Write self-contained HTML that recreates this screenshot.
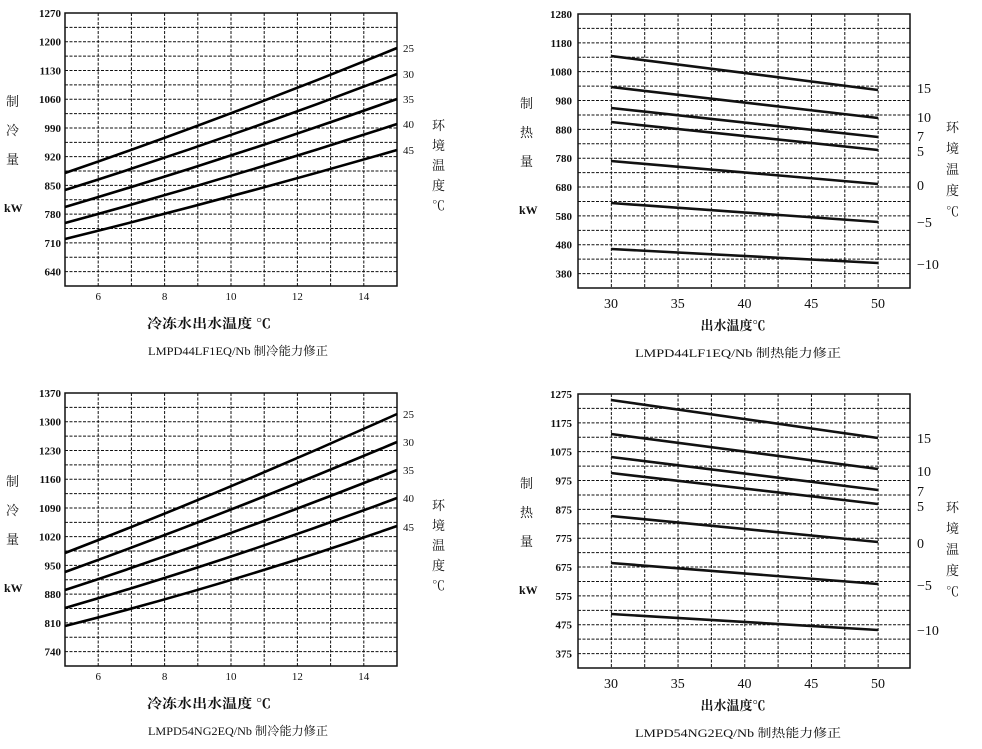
<!DOCTYPE html>
<html><head><meta charset="utf-8"><style>
body{margin:0;background:#fff;width:982px;height:749px;overflow:hidden}
svg{display:block}
text{font-family:"Liberation Serif","Noto Serif CJK SC",serif;fill:#111}
</style></head><body>
<svg id="s" width="982" height="749" viewBox="0 0 982 749" xmlns="http://www.w3.org/2000/svg"></svg>
<script>
var s=document.getElementById('s'),h='';
function L(x1,y1,x2,y2,w,d){h+='<line x1="'+x1+'" y1="'+y1+'" x2="'+x2+'" y2="'+y2+'" stroke="#111" stroke-width="'+w+'"'+(d?' stroke-dasharray="3,1.5"':'')+'/>';}
function T(x,y,t,sz,a,b,tl){h+='<text x="'+x+'" y="'+y+'" font-size="'+sz+'" text-anchor="'+(a||'start')+'"'+(b?' font-weight="bold"':'')+(tl?' textLength="'+tl+'" lengthAdjust="spacingAndGlyphs"':'')+'>'+t+'</text>';}
function cool(oy,top,lines,rl,title){
 var x0=65,x1=397,y0=oy+13,y1=oy+286,step=(y1-y0)/19;
 for(var i=1;i<19;i++)L(x0,y0+i*step,x1,y0+i*step,1,1);
 for(var k=6;k<=14;k++){var x=x0+(k-5)*33.2;L(x,y0,x,y1,1,1);}
 h+='<rect x="'+x0+'" y="'+y0+'" width="'+(x1-x0)+'" height="'+(y1-y0)+'" fill="none" stroke="#111" stroke-width="1.5"/>';
 for(var i=0;i<10;i++)T(61,y0+i*2*step+4,top-70*i,11,'end',1);
 for(var k=6;k<=14;k+=2)T(x0+(k-5)*33.2,oy+300,k,11,'middle');
 lines.forEach(function(p){h+='<path d="M'+x0+' '+p[0]+' Q231 '+p[1]+' '+x1+' '+p[2]+'" fill="none" stroke="#000" stroke-width="2.6"/>';});
 rl.forEach(function(p){T(403,p[1]+4,p[0],11);});
 ['环','境','温','度','℃'].forEach(function(c,i){T(432,oy+130+i*20,c,13);});
 ['制','冷','量'].forEach(function(c,i){T(6,oy+106+i*29,c,13);});
 T(4,oy+212,'kW',12,'start',1);
 T(209,oy+328,'冷冻水出水温度 ℃',13,'middle',1,124);
 T(148,oy+355,title,12,'start',0,180);
}
function heat(oy,top,lines,rl,title){
 var x0=578,x1=910,y0=oy+14,y1=oy+288,step=(y1-y0)/19;
 for(var i=1;i<19;i++)L(x0,y0+i*step,x1,y0+i*step,1,1);
 for(var k=1;k<=9;k++){var x=x0+k*33.35;L(x,y0,x,y1,1,1);}
 h+='<rect x="'+x0+'" y="'+y0+'" width="'+(x1-x0)+'" height="'+(y1-y0)+'" fill="none" stroke="#111" stroke-width="1.5"/>';
 for(var i=0;i<10;i++)T(572,y0+i*2*step+4,top-100*i,11,'end',1);
 for(var k=30;k<=50;k+=5)T(611+(k-30)*13.35,oy+308,k,14,'middle');
 lines.forEach(function(p){L(611,p[0],878,p[1],2.6);});
 rl.forEach(function(p){T(917,p[1]+5,p[0],14);});
 ['环','境','温','度','℃'].forEach(function(c,i){T(946,oy+132+i*21,c,13);});
 ['制','热','量'].forEach(function(c,i){T(520,oy+108+i*29,c,13);});
 T(519,oy+214,'kW',12,'start',1);
 T(733,oy+330,'出水温度℃',13,'middle',1);
 T(635,oy+357,title,12,'start',0,206);
}
cool(0,1270,[[173,116,48],[190,138,74],[207,158,99],[223,178,124],[239,198,150]],[['25',48],['30',74],['35',99],['40',124],['45',150]],'LMPD44LF1EQ/Nb 制冷能力修正');
cool(380,1370,[[553,489,414],[572,512,442],[590,536,470],[608,560,498],[626,584,526]],[['25',414],['30',442],['35',470],['40',498],['45',527]],'LMPD54NG2EQ/Nb 制冷能力修正');
heat(0,1280,[[56,90],[87,118],[108,137],[122,150],[161,184],[203,222],[249,263]],[['15',88],['10',117],['7',136],['5',151],['0',185],['−5',222],['−10',264]],'LMPD44LF1EQ/Nb 制热能力修正');
heat(380,1275,[[400,438],[434,469],[457,490],[473,504],[516,542],[563,584],[614,630]],[['15',438],['10',471],['7',491],['5',506],['0',543],['−5',585],['−10',630]],'LMPD54NG2EQ/Nb 制热能力修正');
s.innerHTML=h;
</script>
</body></html>
